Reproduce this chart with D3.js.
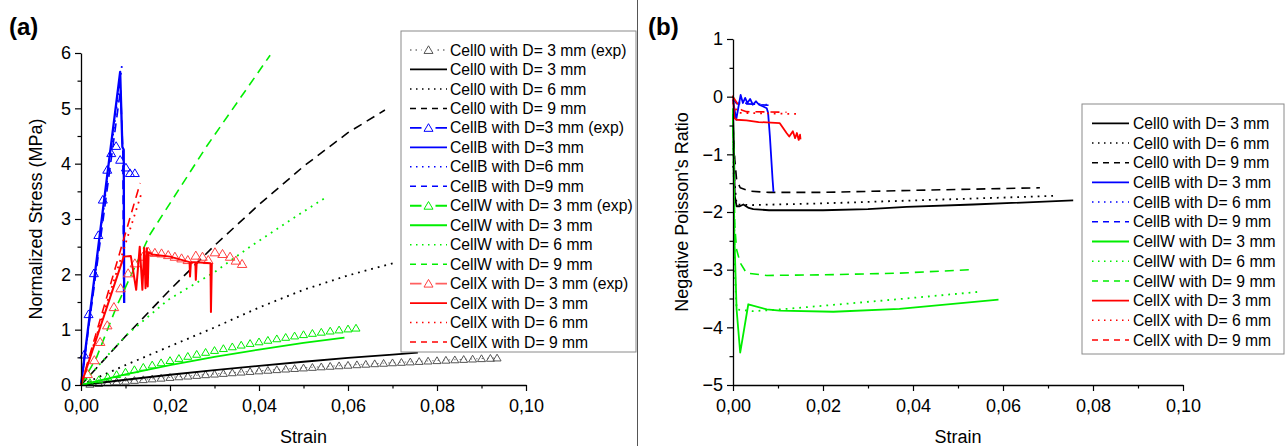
<!DOCTYPE html>
<html>
<head>
<meta charset="utf-8">
<script src="https://cdn.jsdelivr.net/npm/d3@7"></script>
<style>
  html, body { margin: 0; padding: 0; background: #fff; }
  svg { display: block; }
  text { font-family: 'Liberation Sans', Arial, sans-serif; }
</style>
</head>
<body>
<svg id="chart" width="1285" height="446"></svg>
<script>
// ---------------- DATA ----------------
// Panel (a): normalized stress (MPa) vs strain
const cell0ExpA = [[0,0],[0.002,0.015],[0.004,0.029],[0.006,0.043],[0.008,0.057],[0.010,0.071],[0.012,0.085],[0.014,0.098],[0.016,0.112],[0.018,0.125],[0.020,0.138],[0.022,0.150],[0.024,0.163],[0.026,0.175],[0.028,0.188],[0.030,0.199],[0.032,0.211],[0.034,0.223],[0.036,0.235],[0.038,0.246],[0.040,0.257],[0.042,0.268],[0.044,0.279],[0.046,0.290],[0.048,0.300],[0.050,0.310],[0.052,0.320],[0.054,0.330],[0.056,0.340],[0.058,0.349],[0.060,0.359],[0.062,0.368],[0.064,0.377],[0.066,0.386],[0.068,0.394],[0.070,0.403],[0.072,0.411],[0.074,0.419],[0.076,0.427],[0.078,0.435],[0.080,0.442],[0.082,0.450],[0.084,0.457],[0.086,0.464],[0.088,0.471],[0.090,0.478],[0.092,0.484],[0.0935,0.490]];
const cell0D3A = [[0,0],[0.01,0.095],[0.02,0.185],[0.03,0.27],[0.04,0.345],[0.05,0.42],[0.06,0.49],[0.07,0.55],[0.0757,0.585]];
const cell0D6A = [[0,0],[0.01,0.36],[0.02,0.70],[0.03,1.04],[0.04,1.40],[0.05,1.72],[0.06,1.98],[0.071,2.22]];
const cell0D9A = [[0,0],[0.01,0.88],[0.02,1.72],[0.03,2.52],[0.04,3.26],[0.05,3.95],[0.06,4.56],[0.0683,4.97]];
const cellBExpA = [[0,0],[0.0007,0.55],[0.0017,1.28],[0.0029,2.02],[0.0039,2.71],[0.0049,3.35],[0.0059,3.89],[0.0068,4.19],[0.0079,4.32],[0.0088,4.07],[0.0101,3.93],[0.0110,3.83],[0.0121,3.83]];
const cellBD3A = [[0,0],[0.0088,5.66],[0.0093,4.30],[0.0096,4.25],[0.0097,1.48]];
const cellBD6A = [[0,0],[0.0093,5.84]];
const cellBD9A = [[0,0],[0.0089,5.35],[0.0094,4.20],[0.0096,1.60]];
const cellWExpA = [[0,0],[0.002,0.049],[0.004,0.097],[0.006,0.144],[0.008,0.190],[0.010,0.235],[0.012,0.279],[0.014,0.322],[0.016,0.364],[0.018,0.404],[0.020,0.444],[0.022,0.482],[0.024,0.520],[0.026,0.557],[0.028,0.592],[0.030,0.626],[0.032,0.660],[0.034,0.692],[0.036,0.723],[0.038,0.753],[0.040,0.782],[0.042,0.810],[0.044,0.837],[0.046,0.863],[0.048,0.888],[0.050,0.912],[0.052,0.935],[0.054,0.956],[0.056,0.977],[0.058,0.997],[0.060,1.015],[0.0618,1.030]];
const cellWD3A = [[0,0],[0.01,0.19],[0.02,0.36],[0.03,0.51],[0.04,0.64],[0.05,0.76],[0.0592,0.855]];
const cellWD6A = [[0,0],[0.0064,0.57],[0.0106,0.93],[0.0196,1.54],[0.03,2.04],[0.038,2.50],[0.0474,3.0],[0.0552,3.40]];
const cellWD9A = [[0,0],[0.0035,0.50],[0.008,1.42],[0.0155,2.72],[0.0282,4.31],[0.0425,5.96]];
const cellXExpA = [[0,0],[0.0015,0.20],[0.0030,0.45],[0.0043,0.78],[0.0059,1.08],[0.0074,1.41],[0.0089,1.75],[0.0106,2.02],[0.0121,2.20],[0.0139,2.32],[0.0151,2.41],[0.0166,2.39],[0.0181,2.38],[0.0196,2.35],[0.0211,2.32],[0.0226,2.29],[0.0240,2.26],[0.0258,2.34],[0.0273,2.32],[0.0286,2.26],[0.0301,2.40],[0.0318,2.37],[0.0335,2.32],[0.0348,2.25],[0.0362,2.19]];
const cellXD3A = [[0,0],[0.0096,2.32],[0.0112,2.33],[0.0124,1.72],[0.0132,2.50],[0.0138,1.72],[0.0142,2.48],[0.0145,1.75],[0.0148,2.47],[0.0150,1.78],[0.0152,2.40],[0.0160,2.36],[0.0200,2.32],[0.0244,2.22],[0.0245,1.96],[0.0247,2.22],[0.0257,2.22],[0.0258,1.90],[0.0260,2.22],[0.0291,2.20],[0.0292,1.32],[0.0294,2.20]];
const cellXD6A = [[0,0],[0.0136,3.47]];
const cellXD9A = [[0,0],[0.0133,3.65]];

// Panel (b): negative Poisson's ratio vs strain
const cell0D3B = [[0,-0.3],[0.0002,-0.9],[0.0004,-1.72],[0.0008,-1.90],[0.0015,-1.90],[0.0023,-1.87],[0.0035,-1.93],[0.0045,-1.95],[0.008,-1.97],[0.02,-1.97],[0.03,-1.95],[0.0386,-1.91],[0.0534,-1.87],[0.0756,-1.80]];
const cell0D6B = [[0,-1.2],[0.0008,-1.87],[0.004,-1.88],[0.02,-1.85],[0.04,-1.80],[0.06,-1.75],[0.0712,-1.72]];
const cell0D9B = [[0,-0.5],[0.0004,-1.09],[0.0008,-1.44],[0.0016,-1.58],[0.0038,-1.64],[0.008,-1.66],[0.02,-1.66],[0.037,-1.63],[0.0682,-1.58]];
const cellBD3B = [[0,-0.05],[0.0007,-0.40],[0.0017,0.03],[0.0022,-0.11],[0.0027,-0.02],[0.0032,-0.11],[0.0038,-0.04],[0.0044,-0.14],[0.0051,-0.08],[0.0058,-0.14],[0.0067,-0.17],[0.0075,-0.20],[0.0078,-0.28],[0.0082,-0.69],[0.0088,-1.44],[0.0090,-1.65]];
const cellBD6B = [[0,-0.05],[0.0005,-0.10],[0.004,-0.12],[0.0075,-0.14]];
const cellBD9B = [[0,-0.05],[0.0008,-0.12],[0.0045,-0.13],[0.0079,-0.15]];
const cellWD3B = [[0,-0.2],[0.0003,-2.4],[0.0008,-3.69],[0.0016,-4.44],[0.0034,-3.60],[0.0075,-3.69],[0.0104,-3.71],[0.0223,-3.73],[0.037,-3.68],[0.059,-3.52]];
const cellWD6B = [[0,-0.3],[0.0004,-3.0],[0.0008,-3.69],[0.0045,-3.72],[0.0104,-3.69],[0.0223,-3.61],[0.037,-3.51],[0.0553,-3.38]];
const cellWD9B = [[0,-0.3],[0.0004,-2.25],[0.0008,-2.65],[0.0016,-2.88],[0.003,-3.06],[0.0075,-3.10],[0.02,-3.09],[0.037,-3.06],[0.053,-3.00]];
const cellXD3B = [[0,0.02],[0.0003,-0.37],[0.0008,-0.40],[0.003,-0.41],[0.0057,-0.44],[0.0104,-0.46],[0.0119,-0.63],[0.0125,-0.69],[0.0133,-0.60],[0.0138,-0.72],[0.0142,-0.63],[0.0146,-0.75],[0.0149,-0.66],[0.0150,-0.74]];
const cellXD6B = [[0,-0.1],[0.001,-0.28],[0.0142,-0.30]];
const cellXD9B = [[0,0],[0.0019,-0.23],[0.003,-0.26],[0.0119,-0.27]];

// Tick values / labels
const xTickValues = [0, 0.02, 0.04, 0.06, 0.08, 0.10];
const xTickLabels = ["0,00", "0,02", "0,04", "0,06", "0,08", "0,10"];
const yTicksA = [0, 1, 2, 3, 4, 5, 6];
const yTicksB = [-5, -4, -3, -2, -1, 0, 1];

// Legend labels
const legendA = ["Cell0 with D= 3 mm (exp)", "Cell0 with D= 3 mm", "Cell0 with D= 6 mm", "Cell0 with D= 9 mm",
  "CellB with D=3 mm (exp)", "CellB with D=3 mm", "CellB with D=6 mm", "CellB with D=9 mm",
  "CellW with D= 3 mm (exp)", "CellW with D= 3 mm", "CellW with D= 6 mm", "CellW with D= 9 mm",
  "CellX with D= 3 mm (exp)", "CellX with D= 3 mm", "CellX with D= 6 mm", "CellX with D= 9 mm"];
const legendB = ["Cell0 with D= 3 mm", "Cell0 with D= 6 mm", "Cell0 with D= 9 mm",
  "CellB with D= 3 mm", "CellB with D= 6 mm", "CellB with D= 9 mm",
  "CellW with D= 3 mm", "CellW with D= 6 mm", "CellW with D= 9 mm",
  "CellX with D= 3 mm", "CellX with D= 6 mm", "CellX with D= 9 mm"];

// ---------------- STYLES ----------------
const C = { k: "#000000", b: "#0000ff", g: "#00ee00", r: "#ff0000" };
const DASH = { solid: null, dot: "1.8,5", dash: "9,6", dashdot: "1.5,4" };
const LDASH = { solid: null, dot: "1.5,4.5", dash: "6,5", dashdot: "1.5,4" };

const seriesA = [
  { data: cell0ExpA, color: "#555", dash: "dashdot", w: 1, marker: true, msize: 8, lineColor: "#777" },
  { data: cell0D3A, color: C.k, dash: "solid", w: 1.8 },
  { data: cell0D6A, color: C.k, dash: "dot", w: 1.8 },
  { data: cell0D9A, color: C.k, dash: "dash", w: 1.6 },
  { data: cellBExpA, color: C.b, dash: "solid", w: 1, marker: true, msize: 9, lineColor: C.b, noLine: true },
  { data: cellBD3A, color: C.b, dash: "solid", w: 2.3 },
  { data: cellBD6A, color: C.b, dash: "dot", w: 1.8 },
  { data: cellBD9A, color: C.b, dash: "dash", w: 1.6 },
  { data: cellWExpA, color: C.g, dash: "solid", w: 1, marker: true, msize: 8, lineColor: C.g, noLine: true },
  { data: cellWD3A, color: C.g, dash: "solid", w: 1.8 },
  { data: cellWD6A, color: C.g, dash: "dot", w: 1.8 },
  { data: cellWD9A, color: C.g, dash: "dash", w: 1.6 },
  { data: cellXExpA, color: "#ff4040", dash: "solid", w: 1, marker: true, msize: 9.5, lineColor: "#ff6060", noLine: true },
  { data: cellXD3A, color: C.r, dash: "solid", w: 2 },
  { data: cellXD6A, color: C.r, dash: "dot", w: 1.8 },
  { data: cellXD9A, color: C.r, dash: "dash", w: 1.6 }
];
const seriesB = [
  { data: cell0D3B, color: C.k, dash: "solid", w: 1.8 },
  { data: cell0D6B, color: C.k, dash: "dot", w: 1.8 },
  { data: cell0D9B, color: C.k, dash: "dash", w: 1.6 },
  { data: cellBD3B, color: C.b, dash: "solid", w: 1.8 },
  { data: cellBD6B, color: C.b, dash: "dot", w: 1.8 },
  { data: cellBD9B, color: C.b, dash: "dash", w: 1.6 },
  { data: cellWD3B, color: C.g, dash: "solid", w: 1.8 },
  { data: cellWD6B, color: C.g, dash: "dot", w: 1.8 },
  { data: cellWD9B, color: C.g, dash: "dash", w: 1.6 },
  { data: cellXD3B, color: C.r, dash: "solid", w: 1.8 },
  { data: cellXD6B, color: C.r, dash: "dot", w: 1.8 },
  { data: cellXD9B, color: C.r, dash: "dash", w: 1.6 }
];

// ---------------- DRAW ----------------
const svg = d3.select("#chart");
svg.append("rect").attr("width", 1285).attr("height", 446).attr("fill", "#fff");

function triPath(s) {
  const h = s * 0.85;
  return `M0,${-h * 0.55}L${s / 2},${h * 0.45}L${-s / 2},${h * 0.45}Z`;
}

function drawPanel(cfg) {
  const g = svg.append("g");
  const x = d3.scaleLinear().domain([0, 0.1]).range(cfg.xr);
  const y = d3.scaleLinear().domain(cfg.yd).range(cfg.yr);
  const y0 = cfg.yr[0];
  const x0 = cfg.xr[0];

  // series
  const line = d3.line().x(d => x(d[0])).y(d => y(d[1]));
  const sg = g.append("g");
  cfg.series.forEach(s => {
    if (!s.noLine) {
      sg.append("path").attr("d", line(s.data)).attr("fill", "none")
        .attr("stroke", s.lineColor || s.color).attr("stroke-width", s.w)
        .attr("stroke-dasharray", DASH[s.dash])
        .attr("stroke-linejoin", "round");
    }
    if (s.marker) {
      sg.selectAll(null).data(s.data.slice(1)).enter().append("path")
        .attr("d", triPath(s.msize))
        .attr("transform", d => `translate(${x(d[0])},${y(d[1])})`)
        .attr("fill", "none").attr("stroke", s.color).attr("stroke-width", 1);
    }
  });

  // axes
  const minorX = d3.range(0, 0.1001, 0.01).filter(v => Math.round(v * 100) % 2 !== 0);
  const xAxis = d3.axisBottom(x).tickValues(xTickValues)
    .tickFormat((d, i) => xTickLabels[i]).tickSize(6).tickPadding(8).tickSizeOuter(0);
  const gx = g.append("g").attr("transform", `translate(0,${y0})`).call(xAxis);
  g.append("g").attr("transform", `translate(0,${y0})`)
    .call(d3.axisBottom(x).tickValues(minorX).tickFormat("").tickSize(3.5).tickSizeOuter(0))
    .select(".domain").remove();

  const yAxis = d3.axisLeft(y).tickValues(cfg.yTicks).tickFormat(d3.format("d"))
    .tickSize(6).tickPadding(4).tickSizeOuter(0);
  const gy = g.append("g").attr("transform", `translate(${x0},0)`).call(yAxis);
  const minorY = cfg.yTicks.slice(0, -1).map(v => v + 0.5);
  g.append("g").attr("transform", `translate(${x0},0)`)
    .call(d3.axisLeft(y).tickValues(minorY).tickFormat("").tickSize(3.5).tickSizeOuter(0))
    .select(".domain").remove();

  g.selectAll(".domain").attr("stroke", "#000").attr("stroke-width", 1.3);
  g.selectAll(".tick line").attr("stroke", "#000").attr("stroke-width", 1.2);
  g.selectAll(".tick text").attr("font-size", 18).attr("fill", "#000")
    .attr("font-family", "'Liberation Sans', Arial, sans-serif");

  // axis titles
  g.append("text").attr("x", (cfg.xr[0] + cfg.xr[1]) / 2).attr("y", 443)
    .attr("text-anchor", "middle").attr("font-size", 18).text("Strain");
  g.append("text").attr("transform", `translate(${cfg.ytx},${(cfg.yr[0] + cfg.yr[1]) / 2}) rotate(-90)`)
    .attr("text-anchor", "middle").attr("font-size", 18).text(cfg.ytitle);

  // panel label
  svg.append("text").attr("x", cfg.labelX).attr("y", 35).attr("font-size", 24)
    .attr("font-weight", "bold").text(cfg.label);

  // legend
  const L = cfg.legend;
  const lg = svg.append("g");
  lg.append("rect").attr("x", L.x0).attr("y", L.y0).attr("width", L.x1 - L.x0).attr("height", L.y1 - L.y0)
    .attr("fill", "#fff").attr("stroke", "#8a8a8a").attr("stroke-width", 1);
  cfg.legendLabels.forEach((lab, i) => {
    const s = cfg.series[i];
    const yy = L.first + i * L.step;
    lg.append("line").attr("x1", L.lx0).attr("x2", L.lx1).attr("y1", yy).attr("y2", yy)
      .attr("stroke", s.lineColor || s.color).attr("stroke-width", s.dash === "solid" ? 1.8 : 1.5)
      .attr("stroke-dasharray", LDASH[s.dash]);
    if (s.marker) {
      const cx = (L.lx0 + L.lx1) / 2;
      lg.append("rect").attr("x", cx - 7).attr("y", yy - 6).attr("width", 14).attr("height", 12).attr("fill", "#fff");
      lg.append("path").attr("d", triPath(9)).attr("transform", `translate(${cx},${yy})`)
        .attr("fill", "none").attr("stroke", s.color).attr("stroke-width", 1);
    }
    lg.append("text").attr("x", L.tx).attr("y", yy + 5.6).attr("font-size", 15.7).text(lab);
  });
}

drawPanel({
  xr: [81, 526], yd: [0, 6], yr: [385, 53], yTicks: yTicksA,
  series: seriesA, ytitle: "Normalized Stress (MPa)", ytx: 42,
  label: "(a)", labelX: 9,
  legendLabels: legendA,
  legend: { x0: 401, x1: 636, y0: 31, y1: 352, first: 50, step: 19.47, lx0: 410, lx1: 447, tx: 450 }
});
drawPanel({
  xr: [733, 1183], yd: [-5, 1], yr: [385, 39], yTicks: yTicksB,
  series: seriesB, ytitle: "Negative Poisson's Ratio", ytx: 688,
  label: "(b)", labelX: 648,
  legendLabels: legendB,
  legend: { x0: 1082, x1: 1284, y0: 104, y1: 354, first: 123.3, step: 19.7, lx0: 1092, lx1: 1129, tx: 1133 }
});

// panel divider
svg.append("line").attr("x1", 637.5).attr("x2", 637.5).attr("y1", 0).attr("y2", 446)
  .attr("stroke", "#555").attr("stroke-width", 1);
</script>
</body>
</html>
